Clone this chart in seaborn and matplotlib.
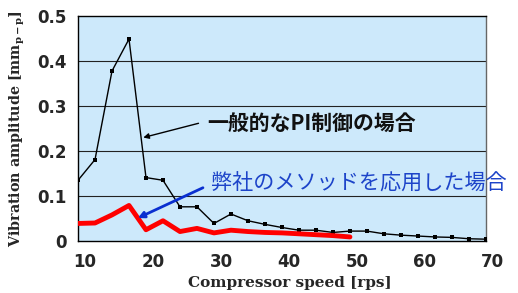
import numpy as np
import pandas as pd
import matplotlib
matplotlib.use('Agg')
import matplotlib.pyplot as plt
import matplotlib.transforms as mtransforms
import seaborn as sns

# speed points (rps)
speed_pi = [10, 12.5, 15, 17.5, 20, 22.5, 25, 27.5, 30, 32.5, 35, 37.5, 40, 42.5,
            45, 47.5, 50, 52.5, 55, 57.5, 60, 62.5, 65, 67.5, 70]
amp_pi = [0.135, 0.181, 0.378, 0.449, 0.141, 0.135, 0.076, 0.076, 0.039, 0.060,
          0.045, 0.037, 0.030, 0.024, 0.024, 0.019, 0.022, 0.022, 0.016, 0.013,
          0.011, 0.009, 0.008, 0.005, 0.004]

speed_ours = [10, 12.5, 15, 17.5, 20, 22.5, 25, 27.5, 30, 32.5, 35, 37.5, 40,
              42.5, 45, 47.5, 50]
amp_ours = [0.039, 0.040, 0.058, 0.079, 0.025, 0.045, 0.021, 0.028, 0.018, 0.024,
            0.021, 0.019, 0.018, 0.016, 0.014, 0.012, 0.009]

x_ticks = [10, 20, 30, 40, 50, 60, 70]
y_ticks = [0, 0.1, 0.2, 0.3, 0.4, 0.5]
y_ticklabels = ['0', '0.1', '0.2', '0.3', '0.4', '0.5']

label_pi = '一般的なPI制御の場合'
label_ours = '弊社のメソッドを応用した場合'

sns.set_theme(style='white')
plt.rcParams['font.family'] = ['DejaVu Sans']

df_pi = pd.DataFrame({'speed': speed_pi, 'amp': amp_pi})
df_ours = pd.DataFrame({'speed': speed_ours, 'amp': amp_ours})

fig = plt.figure(figsize=(5.18, 2.93), dpi=100)
ax = fig.add_axes([0.1506, 0.1775, 0.7874, 0.7675])
ax.set_facecolor('#cde9fb')

for y in y_ticks[1:-1]:
    ax.axhline(y, color='#222222', lw=0.8, zorder=1)

sns.lineplot(data=df_pi, x='speed', y='amp', ax=ax, color='black', lw=1.0,
             marker='s', markersize=3.2, markeredgewidth=0, zorder=3)
sns.lineplot(data=df_ours, x='speed', y='amp', ax=ax, color='#ff0000', lw=3.5,
             zorder=4)

ax.set_xlim(10, 70)
ax.set_ylim(0, 0.5)
ax.set_xticks(x_ticks)
ax.set_yticks(y_ticks)
ax.set_yticklabels(y_ticklabels)
ax.tick_params(axis='both', length=0, labelsize=12)
ax.tick_params(axis='x', pad=9)
ax.tick_params(axis='y', pad=8)
shift = mtransforms.ScaledTranslation(7 / 100, 0, fig.dpi_scale_trans)
for t in ax.get_xticklabels():
    t.set_transform(t.get_transform() + shift)
for t in ax.get_xticklabels() + ax.get_yticklabels():
    t.set_fontweight('bold')

for side in ['left', 'top', 'bottom']:
    ax.spines[side].set_color('black')
    ax.spines[side].set_linewidth(1.0)
ax.spines['right'].set_color('#666666')
ax.spines['right'].set_linewidth(1.0)

ax.set_xlabel('Compressor speed [rps]', family='DejaVu Serif', fontweight='bold',
              fontsize=11)
ax.set_ylabel(r'Vibration amplitude [mm$_{\mathregular{p-p}}$]', family='DejaVu Serif',
              fontweight='bold', fontsize=10.3)
ax.xaxis.set_label_coords(0.52, -0.155)
ax.yaxis.set_label_coords(-0.125, 0.5)

ax.annotate(label_pi, xy=(19.6, 0.230), xytext=(29.0, 0.262),
            fontsize=15, fontweight='bold', color='#111111', va='center',
            family=['Noto Sans CJK JP', 'DejaVu Sans'],
            arrowprops=dict(arrowstyle='-|>', color='black', lw=1.0, relpos=(0, 0.6),
                            shrinkA=4, shrinkB=0, mutation_scale=8),
            zorder=6)
ax.annotate(label_ours, xy=(18.8, 0.051), xytext=(29.6, 0.127),
            fontsize=15.2, color='#1d44c9', va='center',
            family=['Noto Sans CJK JP', 'DejaVu Sans'],
            arrowprops=dict(arrowstyle='-|>', color='#0a2fd0', lw=2.0, relpos=(0, 0.5),
                            shrinkA=4, shrinkB=0, mutation_scale=9),
            annotation_clip=False, zorder=6)

fig.savefig('out.png', dpi=100)
